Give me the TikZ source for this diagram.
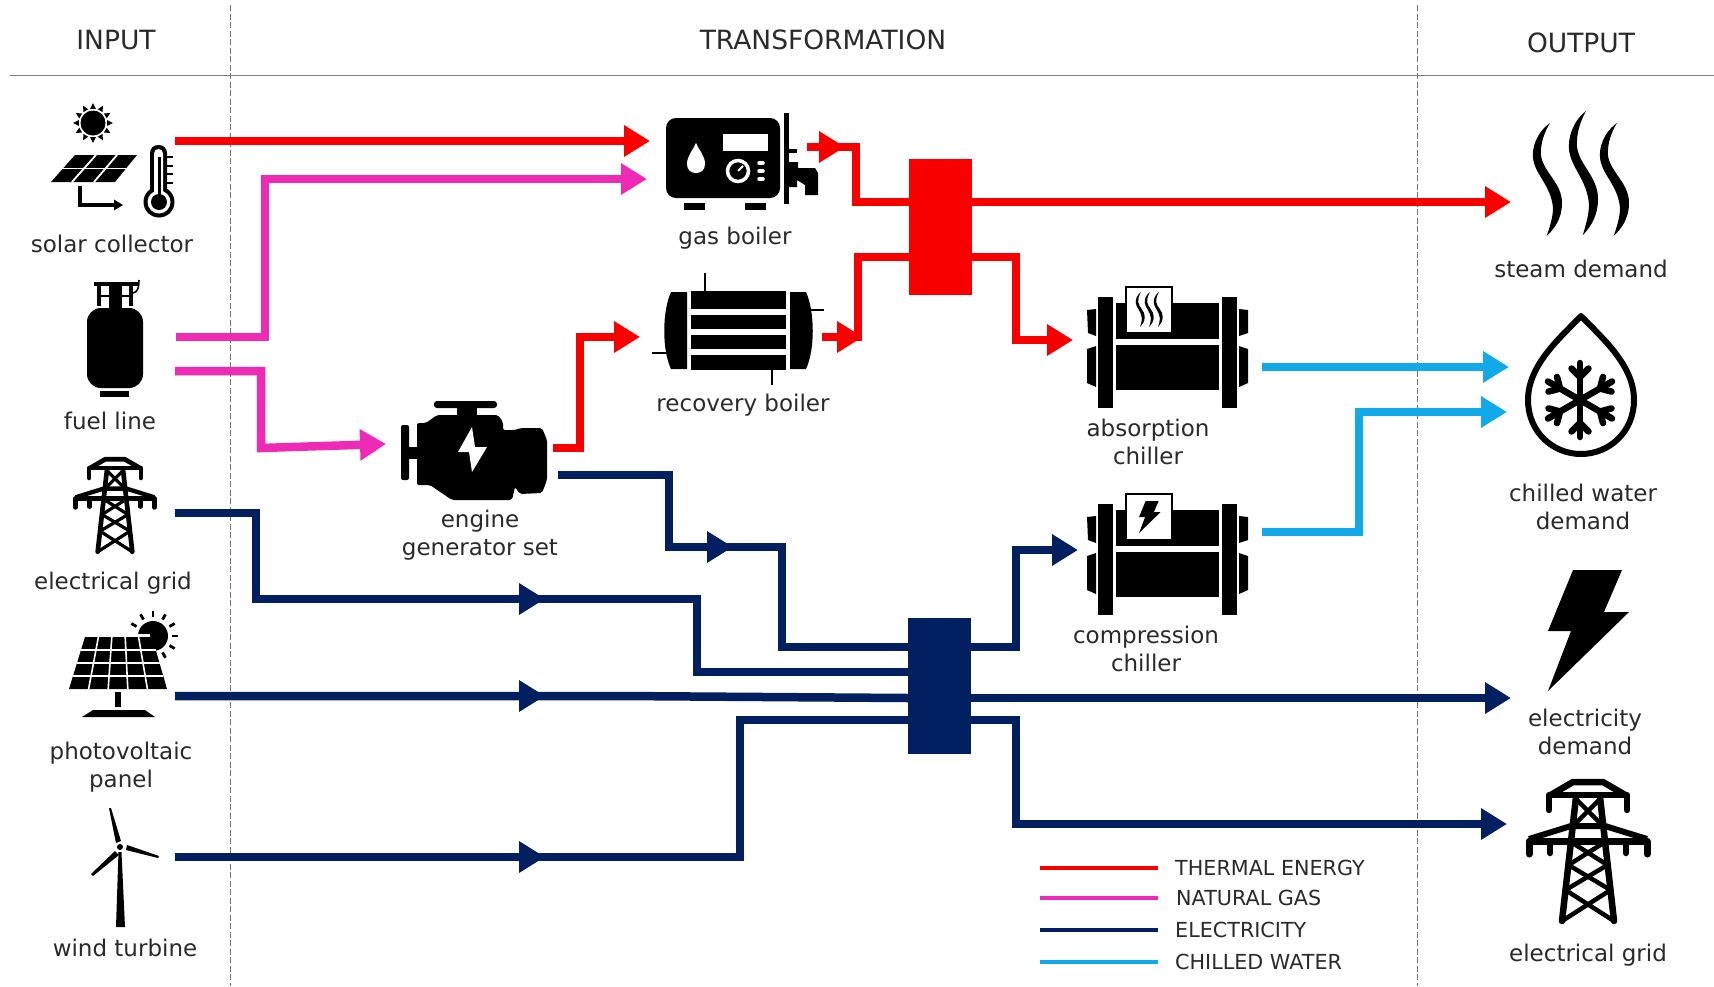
\documentclass[tikz,border=0pt]{standalone}
\usepackage{fontspec}
\setmainfont{DejaVu Sans}
\usetikzlibrary{arrows.meta,calc}
\definecolor{heatcol}{HTML}{F80000}
\definecolor{gascol}{HTML}{EE2BB5}
\definecolor{eleccol}{HTML}{02205F}
\definecolor{chillcol}{HTML}{12A9E8}
\definecolor{inkcol}{HTML}{2A2A2A}
\tikzset{
  heat/.style={draw=heatcol,line width=8.5pt},
  gas/.style={draw=gascol,line width=8.5pt},
  elec/.style={draw=eleccol,line width=8.5pt},
  chill/.style={draw=chillcol,line width=8.5pt},
  headed/.style={-{Triangle[length=26pt,width=30pt]}},
  hub/.style={minimum width=63pt,minimum height=136pt,inner sep=0pt},
  lbl/.style={align=center,inner sep=0pt,text=inkcol,font=\fontsize{23}{27.5}\selectfont},
  hdr/.style={inner sep=0pt,text=inkcol,font=\fontsize{26.5}{30}\selectfont},
  leg/.style={anchor=west,inner sep=0pt,text=inkcol,font=\fontsize{20.7}{26}\selectfont},
  legline/.style={line width=4.5pt},
  divider/.style={draw=gray!90!black,line width=.8pt,dash pattern=on 6pt off 2.5pt},
  pics/wave/.style={code={
    \fill (0,0) .. controls (-14,10) and (-18,25) .. (-17,35) .. controls (-15,52) and (1,62) .. (3,85)
      .. controls (3,95) and (-1,106) .. (-3.3,113) .. controls (5,105) and (12,95) .. (12,80)
      .. controls (12,60) and (-6,50) .. (-9,33) .. controls (-10,20) and (-5,8) .. (0,0) -- cycle;
  }},
  pics/bolt/.style={code={
    \fill (25,0)--(74,0)--(56,42)--(81,42)--(0,121)--(23,61)--(0,61)--cycle;
  }},
  pics/chiller/.style={code={
    \fill (0,0) rectangle (15,111); \fill (124,0) rectangle (139,111);
    \fill (18,6) rectangle (121,42); \fill (18,48) rectangle (121,93);
    \fill (-11,13)--(-2,12)--(-2,39)--(-10,36)--cycle; \fill (-2,49)--(-11,52)--(-11,86)--(-2,90)--cycle;
    \fill (141,12)--(150,13)--(150,36)--(141,39)--cycle; \fill (141,49)--(150,52)--(150,86)--(141,90)--cycle;
    \draw[fill=white,line width=2.5pt] (28,-10) rectangle (74,36);
  }},
  pics/tower/.style={code={
    \draw[line width=#1*6.5pt,line join=round] (-39,16)--(-15,2)--(15,2)--(39,16);
    \draw[line width=#1*6.5pt,line cap=round,line join=round] (-39,30)--(-39,15)--(39,15)--(39,30);
    \draw[line width=#1*7pt,line cap=round,line join=round] (-59,74)--(-59,61)--(59,61)--(59,74);
    \draw[line width=#1*6pt,line join=round] (-59,59)--(-17,46)--(17,46)--(59,59);
    \draw[line width=#1*6.5pt,line cap=round] (-38,61)--(-38,73); \draw[line width=#1*6.5pt,line cap=round] (38,61)--(38,73);
    \draw[line width=#1*6.5pt,line cap=round] (-12,17)--(-26,141); \draw[line width=#1*6.5pt,line cap=round] (12,17)--(26,141);
    \foreach \ya/\xa/\yb/\xb in {20/11/45/14,62/17/85/19.5,85/19.5/110/22.5,110/22.5/141/26}{
      \draw[line width=#1*4.5pt] (-\xa,\ya)--(\xb,\yb); \draw[line width=#1*4.5pt] (\xa,\ya)--(-\xb,\yb);
    }
  }}
}
\begin{document}
\begin{tikzpicture}[x=1pt,y=-1pt]
\useasboundingbox (0,0) rectangle (1714,986);
\fill[white] (0,0) rectangle (1714,986);
% frame
\draw[gray,line width=1pt] (10,75)--(1714,75);
\draw[divider] (230.5,5)--(230.5,986); \draw[divider] (1417.5,5)--(1417.5,986);
\node[hdr] (input) at (116,40) {INPUT};
\node[hdr] (transformation) at (823,40) {TRANSFORMATION};
\node[hdr] (output) at (1581,43) {OUTPUT};
% ports
\coordinate (solarout) at (175,141); \coordinate (boilerheatin) at (650,141);
\coordinate (fueloutA) at (176,337); \coordinate (boilergasin) at (647,179);
\coordinate (fueloutB) at (175,371); \coordinate (enginegasin) at (386,444);
\coordinate (engineheat) at (553,448); \coordinate (recoveryin) at (640,337);
\coordinate (boilerout) at (807,147); \coordinate (boilertip) at (845,147);
\coordinate (recoveryout) at (822,337); \coordinate (recoverytip) at (863,337);
\coordinate (heatinA) at (909,202); \coordinate (heatinB) at (909,257);
\coordinate (heatoutA) at (972,202); \coordinate (heatoutB) at (972,257);
\coordinate (steamin) at (1511,202); \coordinate (absorbin) at (1073,340);
\coordinate (absorbout) at (1262,367); \coordinate (waterinA) at (1509,367);
\coordinate (compressout) at (1262,532); \coordinate (waterinB) at (1507,412);
\coordinate (engineelec) at (558,475); \coordinate (enginemid) at (733,547);
\coordinate (gridout) at (175,513); \coordinate (gridmid) at (545,599);
\coordinate (pvout) at (175,696); \coordinate (pvmid) at (545,696);
\coordinate (windout) at (175,857); \coordinate (windmid) at (545,857);
\coordinate (elecinA) at (908,647); \coordinate (elecinB) at (908,672);
\coordinate (elecinC) at (908,698); \coordinate (elecinD) at (908,720);
\coordinate (elecoutA) at (971,647); \coordinate (elecoutB) at (971,698); \coordinate (elecoutC) at (971,720);
\coordinate (compressin) at (1078,550); \coordinate (demandin) at (1511,698); \coordinate (gridin) at (1507,824);
% thermal
\draw[heat,headed] (solarout)--(boilerheatin);
\draw[heat,headed] (engineheat)-|(580,337)--(recoveryin);
\draw[heat] (boilerout)-|(856,202)--(heatinA);
\draw[heat,headed] (boilerout)--(boilertip);
\draw[heat] (recoveryout)-|(858,257)--(heatinB);
\draw[heat,headed] (recoveryout)--(recoverytip);
\draw[heat,headed] (heatoutA)--(steamin);
\draw[heat,headed] (heatoutB)-|(1016,340)--(absorbin);
% gas
\draw[gas,headed] (fueloutA)-|(265,179)--(boilergasin);
\draw[gas,headed] (fueloutB)-|(261,448)--(enginegasin);
% electricity
\draw[elec] (engineelec)-|(669,547)-|(782,647)--(elecinA);
\draw[elec,headed] (engineelec)-|(669,547)--(enginemid);
\draw[elec] (gridout)-|(256,599)-|(697,672)--(elecinB);
\draw[elec,headed] (gridout)-|(256,599)--(gridmid);
\draw[elec] (pvout)--(620,696)--(elecinC);
\draw[elec,headed] (pvout)--(pvmid);
\draw[elec] (windout)-|(740,720)--(elecinD);
\draw[elec,headed] (windout)--(windmid);
\draw[elec,headed] (elecoutA)-|(1016,550)--(compressin);
\draw[elec,headed] (elecoutB)--(demandin);
\draw[elec,headed] (elecoutC)-|(1016,824)--(gridin);
% chilled water
\draw[chill,headed] (absorbout)--(waterinA);
\draw[chill,headed] (compressout)-|(1359,412)--(waterinB);
% hubs
\node[hub,fill=heatcol] (heathub) at (940.5,227) {};
\node[hub,fill=eleccol] (elechub) at (939.5,685.5) {};
% solar collector
\fill (93,123) circle (12.5);
\foreach \a in {0,30,...,330}{\fill ($(93,123)+(\a-11:14.5)$)--($(93,123)+(\a:20)$)--($(93,123)+(\a+11:14.5)$)--cycle;}
\fill (75,155)--(137,155)--(115,182)--(51,182)--cycle;
\draw[white,line width=1.8pt] (63,168.5)--(126,168.5); \draw[white,line width=1.8pt] (96,155)--(72,182); \draw[white,line width=1.8pt] (117,155)--(94,182);
\draw[line width=3.4pt] (80,186)--(80,205)--(114,205);
\fill (123,205)--(114,199.5)--(114,210.5)--cycle;
\fill[rounded corners=8pt] (150,145) rectangle (167,196); \fill (159,202) circle (15.5);
\fill[white,rounded corners=4.5pt] (154,149) rectangle (163,196); \fill[white] (159,202) circle (11.5);
\fill (159,202) circle (8); \fill (157.5,157) rectangle (160.5,200);
\foreach \y in {157,166,174,183}{\draw[line width=2pt] (167,\y)--(173,\y);}
% fuel line
\fill[rounded corners=14pt] (87,308) rectangle (143,388);
\fill (100,391) rectangle (129,397); \fill (109,282) rectangle (122,308); \fill (94,282) rectangle (138,286);
\fill (97,282) rectangle (101,306); \fill (129,282) rectangle (133,306);
\draw[line width=1.6pt] (133,293) .. controls (138,292) and (139,287) .. (139,280);
\draw[line width=1.6pt] (101,296)--(109,296); \draw[line width=1.6pt] (122,296)--(129,296);
% towers
\pic[scale=.665] at (115,458) {tower=.72};
\pic at (1588,780) {tower=1};
% photovoltaic panel
\fill (153,636) circle (15);
\foreach \a in {-150,-120,...,60}{\draw[line width=2.8pt] (153,636) ++(\a:19)--++(\a:6);}
\fill[white] (84,634) rectangle (150,640);
\fill (85,637)--(152,637)--(167,689)--(69,689)--cycle;
\foreach \f in {.2,.4,.6,.8}{\draw[white,line width=1.6pt] ({85+67*\f},637)--({69+98*\f},689);}
\foreach \f in {.25,.5,.75}{\draw[white,line width=1.6pt] ({85-16*\f},{637+52*\f})--({152+15*\f},{637+52*\f});}
\fill (115,692) rectangle (121,707);
\fill (93,710)--(145,710)--(155,717)--(82,717)--cycle;
% wind turbine
\fill (118.5,852)--(121.5,852)--(125,927)--(116,927)--cycle;
\fill (120,847) circle (3);
\fill (109,808)--(111,808)--(121,841)--(116,843)--cycle;
\fill (159,856)--(158,858)--(126,850)--(127,845)--cycle;
\fill (91,874)--(93,876)--(119,855)--(115,851)--cycle;
% gas boiler
\fill[rounded corners=10pt] (666,118) rectangle (780,198);
\fill (684,203) rectangle (705,210); \fill (745,203) rectangle (766,210);
\fill (784,113) rectangle (789,204); \fill (789,149) rectangle (797,153);
\fill (789,162)--(798,162)--(798,168)--(815,168)--(818,173)--(818,195)--(805,195)--(805,185)--(797,180)--(797,187)--(789,187)--cycle;
\fill[white] (723,134) rectangle (768,151);
\fill[white] (696,143) .. controls (693,150) and (687,156) .. (687,164) .. controls (687,170) and (691,173) .. (696,173) .. controls (701,173) and (705,170) .. (705,164) .. controls (705,156) and (699,150) .. (696,143) -- cycle;
\draw[white,line width=3.5pt] (738,171) circle (10.5);
\draw[white,line width=2pt] (738,171)--(743,166);
\foreach \y in {163,171,179}{\draw[white,line width=3.5pt,line cap=round] (759,\y)--(763,\y);}
% recovery boiler
\fill (691,291) rectangle (786,309); \fill (691,315) rectangle (786,329); \fill (691,335) rectangle (786,349); \fill (691,355) rectangle (786,370);
\fill (687,292)--(671,292) .. controls (662,312) and (662,350) .. (671,369) -- (687,369) -- cycle;
\fill (790,292)--(806,292) .. controls (815,312) and (815,350) .. (806,369) -- (790,369) -- cycle;
\draw[line width=2.8pt] (705,273)--(705,291); \draw[line width=2.8pt] (810,310)--(824,310);
\draw[line width=2.8pt] (652,353)--(668,353); \draw[line width=2.8pt] (772,370)--(772,385);
% engine generator set
\fill[rounded corners=2pt] (401,425) rectangle (409,480); \fill (409,447) rectangle (417,459);
\fill[rounded corners=3pt] (434,401) rectangle (497,408); \fill (457,408) rectangle (477,417);
\fill[rounded corners=2pt] (417,423)--(426,423)--(437,415)--(498,415)--(503,422)--(503,430)--(515,430)--(521,428)--(542,428)--(547,440)--(547,480)--(542,493)--(520,494)--(515,487)--(512,500)--(452,500)--(430,485)--(417,485)--cycle;
\fill[white] (472,427)--(458,452)--(469,452)--(472,472)--(487,447)--(475,447)--cycle;
% chillers
\pic at (1098,297) {chiller};
\pic at (1098,504) {chiller};
\pic[scale=.31] at (1141,292) {wave};
\pic[scale=.31] at (1150,292) {wave};
\pic[scale=.31] at (1159,292) {wave};
\pic[scale=.265] at (1139,501) {bolt};
% steam demand
\pic at (1550,123) {wave};
\pic[yscale=1.1] at (1586,111) {wave};
\pic at (1617,123) {wave};
% chilled water demand
\draw[line width=6pt,line join=round] (1581,316) .. controls (1560,338) and (1528,365) .. (1528,400) .. controls (1528,432) and (1553,454) .. (1581,454) .. controls (1609,454) and (1634,432) .. (1634,400) .. controls (1634,365) and (1602,338) .. (1581,316) -- cycle;
\begin{scope}[shift={(1580,400)},line width=6.5pt,line cap=round]
\foreach \a in {30,90,...,330}{\draw (0,0)--(\a:37); \draw (\a:23)--++(\a+45:12); \draw (\a:23)--++(\a-45:12);}
\end{scope}
% electricity demand
\pic at (1548,570) {bolt};
% labels
\node[lbl] (solar) at (112,244) {solar collector};
\node[lbl] (fuel) at (110,421) {fuel line};
\node[lbl] (gridsource) at (113,583) {electrical grid};
\node[lbl] (panel) at (121,767) {photovoltaic\\panel};
\node[lbl] (wind) at (125,948) {wind turbine};
\node[lbl] (gasboiler) at (735,238) {gas boiler};
\node[lbl] (recovery) at (743,405) {recovery boiler};
\node[lbl] (engine) at (480,535) {engine\\generator set};
\node[lbl] (absorption) at (1148,442) {absorption\\chiller};
\node[lbl] (compression) at (1146,649) {compression\\chiller};
\node[lbl] (steam) at (1581,269) {steam demand};
\node[lbl] (water) at (1583,507) {chilled water\\demand};
\node[lbl] (electricity) at (1585,732) {electricity\\demand};
\node[lbl] (griddemand) at (1588,955) {electrical grid};
% legend
\node[leg] (legheat) at (1175,868) {THERMAL ENERGY};
\node[leg] (leggas) at (1176,898) {NATURAL GAS};
\node[leg] (legelec) at (1175,930) {ELECTRICITY};
\node[leg] (legchill) at (1175,962) {CHILLED WATER};
\coordinate (legstart) at (1040,0);
\draw[heat,legline] (legstart |- legheat)--(1158,868);
\draw[gas,legline] (legstart |- leggas)--(1158,898);
\draw[elec,legline] (legstart |- legelec)--(1158,930);
\draw[chill,legline] (legstart |- legchill)--(1158,962);
\end{tikzpicture}
\end{document}
